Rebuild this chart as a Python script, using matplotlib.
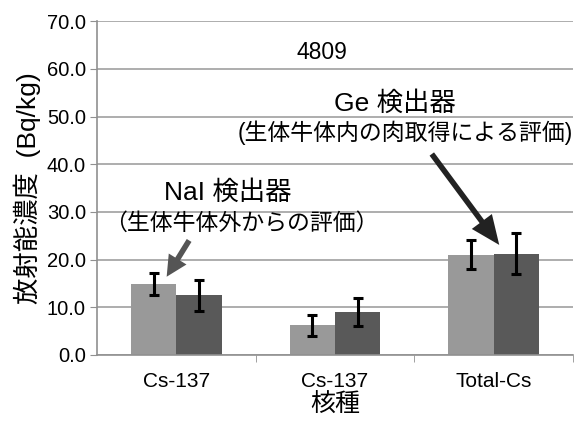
import numpy as np
import matplotlib
matplotlib.use("Agg")
import matplotlib.pyplot as plt

plt.rcParams['font.family'] = ['Liberation Sans', 'Noto Sans CJK JP']

categories = ["Cs-137", "Cs-137", "Total-Cs"]
light_vals = [14.8, 6.2, 21.0]
light_err = [2.3, 2.2, 3.0]
dark_vals = [12.5, 9.0, 21.2]
dark_err = [3.2, 3.0, 4.3]

fig = plt.figure(figsize=(5.79, 4.23), dpi=100)
ax = fig.add_axes([0.1675, 0.161, 0.822, 0.789])

x = np.arange(len(categories))
w = 0.285
ax.bar(x - w/2, light_vals, w, color="#999999", zorder=2)
ax.bar(x + w/2, dark_vals, w, color="#595959", zorder=2)
ax.errorbar(x - w/2, light_vals, yerr=light_err, fmt="none", ecolor="black",
            elinewidth=2.2, capsize=3.8, capthick=2.2, zorder=3)
ax.errorbar(x + w/2, dark_vals, yerr=dark_err, fmt="none", ecolor="black",
            elinewidth=2.2, capsize=3.8, capthick=2.2, zorder=3)

ax.set_xlim(-0.5, 2.5)
ax.set_ylim(0, 70)
ax.set_yticks(np.arange(0, 71, 10))
ax.set_yticklabels([f"{v:.1f}" for v in np.arange(0, 71, 10)], fontsize=14.5)
ax.yaxis.grid(True, color="#a0a0a0", linewidth=1.2, zorder=0)
ax.set_axisbelow(True)

ax.set_xticks(x)
ax.set_xticklabels(categories, fontsize=15)
ax.set_xticks([0.5, 1.5, 2.5], minor=True)
ax.tick_params(axis="x", which="major", length=0, pad=12)
ax.tick_params(axis="x", which="minor", length=5, color="#909090")
ax.tick_params(axis="y", length=5, color="#909090", pad=3)

for s in ["top", "right"]:
    ax.spines[s].set_visible(False)
for s in ["left", "bottom"]:
    ax.spines[s].set_color("#909090")
    ax.spines[s].set_linewidth(1.2)

ax.set_ylabel("放射能濃度  (Bq/kg)", fontsize=19, labelpad=4)
ax.set_xlabel("核種", fontsize=18, labelpad=2)

ax.text(0.915, 63.5, "4809", fontsize=16.5, ha="center", va="center")

ax.text(0.327, 34.0, "NaI 検出器", fontsize=19, ha="center", va="center")
ax.text(0.41, 27.6, "（生体牛体外からの評価）", fontsize=16.5, ha="center", va="center")
ax.annotate("", xy=(-0.07, 15.9), xytext=(0.09, 24.5),
            arrowprops=dict(arrowstyle="simple,head_width=1.5,head_length=1.5,tail_width=0.4",
                            color="#555555", lw=0))

ax.text(1.376, 52.8, "Ge 検出器", fontsize=19, ha="center", va="center")
ax.text(1.446, 46.5, "(生体牛体内の肉取得による評価)", fontsize=16.5, ha="center", va="center")
ax.annotate("", xy=(2.046, 22.6), xytext=(1.60, 42.6),
            arrowprops=dict(arrowstyle="simple,head_width=1.8,head_length=2.1,tail_width=0.4",
                            color="#222222", lw=0))

fig.savefig("out.png", dpi=100)
